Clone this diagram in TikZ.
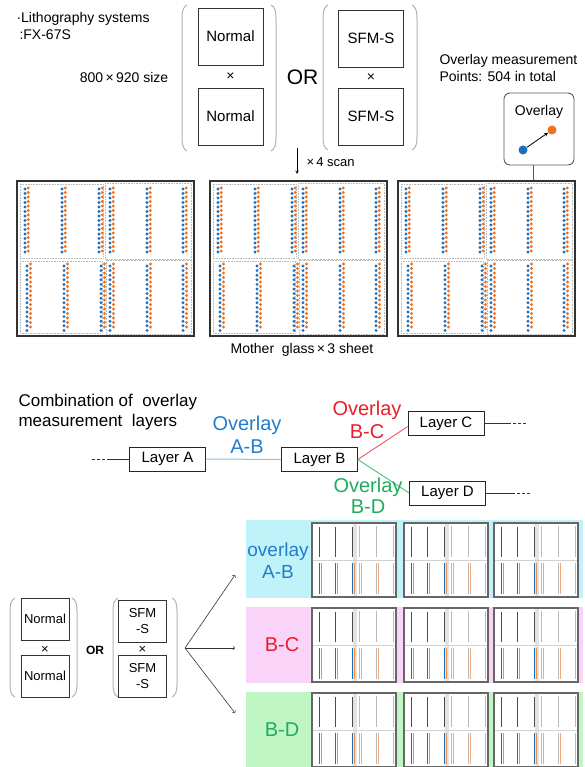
\documentclass[tikz,border=0pt]{standalone}
\usepackage{fontspec}
\setmainfont{Liberation Sans}
\usetikzlibrary{positioning}

\definecolor{dotblue}{RGB}{30,110,190}
\definecolor{dotorange}{RGB}{240,112,30}
\definecolor{abblue}{RGB}{35,125,200}
\definecolor{ablight}{RGB}{150,190,222}
\definecolor{bcred}{RGB}{232,30,45}
\definecolor{bdgreen}{RGB}{30,172,95}
\definecolor{bandcyan}{RGB}{192,242,250}
\definecolor{bandpink}{RGB}{250,212,248}
\definecolor{bandgreen}{RGB}{192,246,196}

\tikzset{
  txt13/.style={font=\fontsize{13}{16}\selectfont},
  txt14/.style={font=\fontsize{14}{17}\selectfont},
  modebox/.style={draw=black!80, line width=0.8pt, minimum width=65pt, minimum height=57pt,
    inner sep=0pt, font=\fontsize{15}{18}\selectfont},
  smallbox/.style={draw=black!80, line width=0.8pt, minimum width=48pt, minimum height=42pt,
    inner sep=0pt, align=center, font=\fontsize{13}{16}\selectfont},
  layerbox/.style={draw=black!85, line width=0.7pt, minimum width=76pt, minimum height=24pt,
    inner sep=0pt, font=\fontsize{15}{18}\selectfont},
  ovlabel/.style={align=center, font=\fontsize{20}{23}\selectfont},
  brk/.style={draw=gray!60, line width=1pt},
  panelframe/.style={draw=black!80, line width=1.8pt},
  subframe/.style={draw=gray!55, densely dotted, line width=0.6pt},
  miniframe/.style={draw=black!60, line width=1.2pt},
  miniline/.style={line width=0.45pt, dash pattern=on 0.5pt off 0.5pt},
  tail/.style={draw=black!80, line width=0.6pt},
  dashtail/.style={draw=black!80, line width=0.6pt, dash pattern=on 2.5pt off 2.5pt}
}

% parentheses round the mode boxes
\newcommand{\openbrk}[3]{%
  \draw[brk] (#1+5,#2) .. controls (#1+1,#2+2) and (#1,#2+6) .. (#1,#2+14)
    -- (#1,#3-14) .. controls (#1,#3-6) and (#1+1,#3-2) .. (#1+5,#3);}
\newcommand{\closebrk}[3]{%
  \draw[brk] (#1-5,#2) .. controls (#1-1,#2+2) and (#1,#2+6) .. (#1,#2+14)
    -- (#1,#3-14) .. controls (#1,#3-6) and (#1-1,#3-2) .. (#1-5,#3);}

% mother glass with overlay measurement points
\newcommand{\motherglass}[2]{%
  \begin{scope}[shift={(#1,#2)}]
    \fill[white] (0,0) rectangle (177,155);
    \draw[subframe] (3,3) rectangle (86,77);
    \draw[subframe] (88,2) rectangle (174,78);
    \draw[subframe] (3,80) rectangle (85,152);
    \draw[subframe] (89,79) rectangle (174,153);
    \foreach \cx in {8,45,82,93,130,166} {
      \foreach \r in {0,...,14} {
        \fill[dotblue] (\cx,{8+\r*4.5}) circle (1.6pt);
        \fill[dotorange] ({\cx+3.2},{7+\r*4.5}) circle (1.6pt);
      }
    }
    \foreach \cx in {10,47,84,93,130,166} {
      \foreach \r in {0,...,14} {
        \fill[dotblue] (\cx,{85+\r*4.6}) circle (1.6pt);
        \fill[dotorange] ({\cx+3.5},{83+\r*4.5}) circle (1.6pt);
      }
    }
    \draw[panelframe] (0,0) rectangle (177,155);
  \end{scope}}

% reduced mother glass in the result bands
\newcommand{\minipanel}[2]{%
  \begin{scope}[shift={(#1,#2)}]
    \fill[white] (0,0) rectangle (84,74);
    \fill[gray!22] (41,1) rectangle (45,73);
    \draw[gray!35, line width=0.8pt] (1,37) -- (83,37);
    \foreach \cx in {7,23,40} {
      \draw[miniline, gray!60!black] (\cx,4) -- (\cx,34);
      \draw[miniline, dotblue] (\cx,40) -- (\cx,71);
      \draw[miniline, dotorange!80] ({\cx+2.4},40) -- ({\cx+2.4},71);
    }
    \foreach \cx in {47,64,81} {
      \draw[miniline, gray!55] (\cx,3) -- (\cx,34);
      \draw[miniline, dotorange!60] ({\cx+2},40) -- ({\cx+2},71);
      \draw[miniline, gray!55] (\cx,40) -- (\cx,71);
    }
    \draw[miniframe] (0,0) rectangle (84,74);
  \end{scope}}

\begin{document}
\begin{tikzpicture}[x=1pt, y=-1pt, >=stealth]
  \useasboundingbox (0,0) rectangle (585,767);

  % exposure modes
  \node[txt14, anchor=west, align=left] (litho) at (13,25.5) {·Lithography systems\\\hspace{3pt}:FX-67S};
  \node[txt14] (size) at (124,77) {800\,×\,920 size};
  \openbrk{182}{5}{151}
  \node[modebox] (normA) at (230.5,36.5) {Normal};
  \node[txt14] (crossA) at (230.5,77) {×};
  \node[modebox] (normB) at (230.5,116.5) {Normal};
  \closebrk{276}{5}{151}
  \node[font=\fontsize{21}{24}\selectfont] (orTop) at (302.5,77) {OR};
  \openbrk{323}{5}{150}
  \node[modebox] (sfmA) at (371,38.5) {SFM-S};
  \node[txt14] (crossB) at (371,78) {×};
  \node[modebox] (sfmB) at (371,116.5) {SFM-S};
  \closebrk{417}{5}{150}

  \coordinate (scanTop) at (297,148);
  \coordinate (scanBot) at (297,174);
  \draw[->, line width=0.6pt] (scanTop) -- (scanBot);
  \node[txt13, anchor=west] (scan) at (303,162) {×\,4 scan};

  % overlay callout
  \node[txt14, anchor=west, align=left] (points) at (436,68) {Overlay measurement\\Points: 504 in total};
  \node[draw=black!65, line width=0.9pt, rounded corners=6pt, minimum width=70pt, minimum height=72pt] (ovbox) at (539,129) {};
  \node[txt14] (ovtitle) at (539,112) {Overlay};
  \node[circle, fill=dotblue, inner sep=0pt, minimum size=9pt] (dotB) at (523,150) {};
  \node[circle, fill=dotorange, inner sep=0pt, minimum size=9pt] (dotO) at (552,130) {};
  \draw[->, line width=0.8pt] (dotB) -- (dotO);
  \coordinate (ovTail) at (533,183);
  \draw[black!65, line width=0.9pt] (ovTail |- ovbox.south) -- (ovTail);

  % three mother glass sheets
  \motherglass{17}{181}
  \motherglass{210}{181}
  \motherglass{398}{181}
  \node[txt14] (mother) at (302,350) {Mother \ glass\,×\,3 sheet};

  % layer combinations
  \node[anchor=west, align=left, font=\fontsize{17}{20}\selectfont] (combi) at (15,412) {Combination of \ overlay\\measurement \ layers};
  \node[layerbox] (layA) at (167.5,459) {Layer A};
  \node[layerbox] (layB) at (319.5,459.5) {Layer B};
  \node[layerbox] (layC) at (446,423.5) {Layer C};
  \node[layerbox] (layD) at (447.5,493) {Layer D};
  \coordinate (aDash) at (92,459);
  \coordinate (aLine) at (110,459);
  \coordinate (cLine) at (508,423.5);
  \coordinate (cDash) at (527,423.5);
  \coordinate (dLine) at (512,493);
  \coordinate (dDash) at (530,493);
  \draw[dashtail] (aDash) -- (aLine);
  \draw[tail] (aLine) -- (layA.west);
  \draw[tail] (layC.east) -- (cLine);
  \draw[dashtail] (cLine) -- (cDash);
  \draw[tail] (layD.east) -- (dLine);
  \draw[dashtail] (dLine) -- (dDash);
  \draw[ablight, line width=1pt] (layA.east) -- (layB.west);
  \draw[bcred!70, line width=1pt] (layB.east) -- ([yshift=-3pt]layC.west);
  \draw[bdgreen!75, line width=1pt] (layB.east) -- (layD.west);
  \node[ovlabel, text=abblue] (ovAB) at (247,435) {Overlay\\A-B};
  \node[ovlabel, text=bcred] (ovBC) at (367,420) {Overlay\\B-C};
  \node[ovlabel, text=bdgreen, font=\fontsize{20}{21}\selectfont] (ovBD) at (368,496) {Overlay\\B-D};

  % modes again, fanned out to the results
  \openbrk{10}{598}{697}
  \node[smallbox] (normC) at (45,619) {Normal};
  \node[txt13] (crossC) at (45,650) {×};
  \node[smallbox] (normD) at (45,676) {Normal};
  \closebrk{77}{598}{697}
  \node[font=\bfseries\fontsize{12}{14}\selectfont] (orBot) at (95,650) {OR};
  \openbrk{113}{598}{697}
  \node[smallbox] (sfmC) at (142.5,621.5) {SFM\\-S};
  \node[txt13] (crossD) at (142.5,650) {×};
  \node[smallbox] (sfmD) at (142.5,676) {SFM\\-S};
  \closebrk{177}{598}{697}

  \coordinate (fan) at (185,648);
  \coordinate (toAB) at (235,575);
  \coordinate (toBC) at (235,648);
  \coordinate (toBD) at (235,713);
  \foreach \t in {toAB,toBC,toBD}
    \draw[->, >=to, black!80, line width=0.6pt] (fan) -- (\t);

  % result bands
  \fill[bandcyan] (246,520) rectangle (583,598);
  \fill[bandpink] (246,607) rectangle (583,683);
  \fill[bandgreen] (246,692) rectangle (583,767);
  \foreach \py in {523,608,693}
    \foreach \px in {312,404,494}
      \minipanel{\px}{\py};
  \node[ovlabel, text=abblue, font=\fontsize{19}{22}\selectfont] (bandAB) at (278,561) {overlay\\A-B};
  \node[ovlabel, text=bcred] (bandBC) at (282,645) {B-C};
  \node[ovlabel, text=bdgreen] (bandBD) at (282,730) {B-D};
\end{tikzpicture}
\end{document}
